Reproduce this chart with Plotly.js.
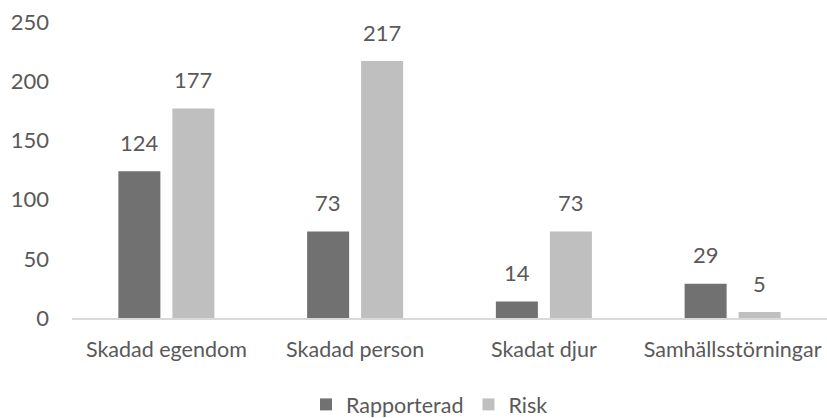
<!DOCTYPE html>
<html><head><meta charset="utf-8">
<script src="https://cdn.plot.ly/plotly-3.0.1.min.js"></script>
<style>body{margin:0}</style></head>
<body><div id="chart" style="width:827px;height:418px"></div>
<script>
const categories = ["Skadad egendom", "Skadad person", "Skadat djur", "Samhällsstörningar"];
const rapporterad = [124, 73, 14, 29];
const risk = [177, 217, 73, 5];
const yTicks = [0, 50, 100, 150, 200, 250];

const fam = "Lato, 'Open Sans', sans-serif";
const numFont = {family: fam, size: 22, color: "#595959"};
const catFont = {family: fam, size: 21.5, color: "#595959"};
const legFont = {family: fam, size: 21.5, color: "#595959"};
const traces = [
  {type: "bar", name: "Rapporterad", x: categories, y: rapporterad, marker: {color: "#717171"}},
  {type: "bar", name: "Risk", x: categories, y: risk, marker: {color: "#bfbfbf"}}
];
const annotations = [];
[rapporterad, risk].forEach((arr, s) => {
  arr.forEach((v, i) => {
    annotations.push({x: categories[i], y: v, text: String(v), showarrow: false,
      xref: "x", yref: "y", xshift: s === 0 ? -27 : 27, yshift: 29, font: numFont});
  });
});
const layout = {
  width: 827, height: 418,
  margin: {l: 72, r: 0, t: 22, b: 100, autoexpand: false},
  paper_bgcolor: "#ffffff", plot_bgcolor: "#ffffff",
  font: numFont,
  barmode: "group", bargap: 0.4277, bargroupgap: 0.222,
  showlegend: true,
  legend: {orientation: "h", x: 0.4735, xanchor: "center", y: -0.292, yanchor: "middle", font: legFont, itemwidth: 30, tracegroupgap: 0},
  xaxis: {showline: true, linecolor: "#d9d9d9", linewidth: 1.5, ticks: "", showgrid: false, tickfont: catFont, ticklabelstandoff: 11},
  yaxis: {range: [0, 250], tickvals: yTicks, showgrid: false, zeroline: false, showline: false, ticks: "", tickfont: numFont, ticklabelstandoff: 22},
  annotations: annotations
};
Plotly.newPlot("chart", traces, layout, {displayModeBar: false});
</script></body></html>
